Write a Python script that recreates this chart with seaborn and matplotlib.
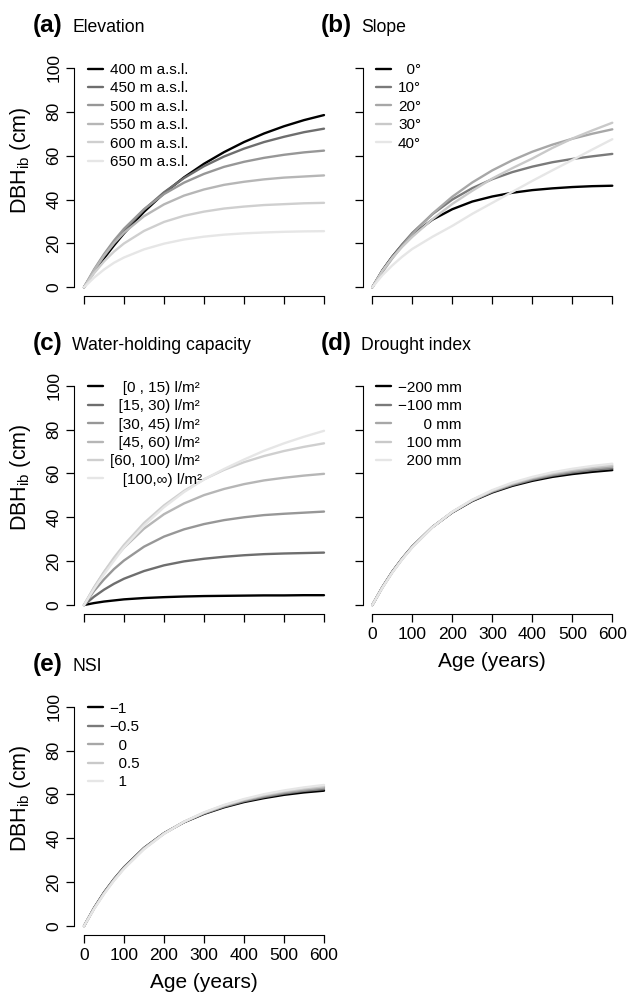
"""
DBH growth curves under different site conditions (five panels).
"""
import numpy as np
import pandas as pd
import matplotlib
matplotlib.use("Agg")
import matplotlib.pyplot as plt
import matplotlib.colors as mcolors
import seaborn as sns

AGES = [0, 25, 50, 75, 100, 150, 200, 250, 300, 350, 400, 450, 500, 550, 600]

# (a) elevation
ELEV_LABELS = ["400 m a.s.l.", "450 m a.s.l.", "500 m a.s.l.",
               "550 m a.s.l.", "600 m a.s.l.", "650 m a.s.l."]
ELEV_DBH = [
    [0, 6.9, 13.2, 19.1, 24.6, 34.4, 42.9, 50.1, 56.3, 61.6, 66.2, 70.1, 73.4, 76.2, 78.5],
    [0, 7.4, 14.2, 20.3, 25.8, 35.4, 43.3, 49.8, 55.2, 59.6, 63.2, 66.2, 68.6, 70.7, 72.3],
    [0, 8.1, 15.1, 21.3, 26.7, 35.6, 42.5, 47.7, 51.7, 54.9, 57.2, 59.0, 60.4, 61.5, 62.3],
    [0, 7.8, 14.4, 20.1, 24.9, 32.4, 37.8, 41.8, 44.6, 46.7, 48.1, 49.2, 50.0, 50.5, 51.0],
    [0, 6.4, 11.8, 16.3, 20.0, 25.7, 29.8, 32.6, 34.5, 35.9, 36.8, 37.5, 37.9, 38.3, 38.5],
    [0, 4.4, 8.1, 11.2, 13.6, 17.3, 19.9, 21.8, 23.1, 24.0, 24.6, 25.0, 25.3, 25.5, 25.6],
]

# (b) slope
SLOPE_LABELS = ["  0°", "10°", "20°", "30°", "40°"]
SLOPE_DBH = [
    [0, 7.7, 14.0, 19.4, 23.9, 30.8, 35.6, 39.1, 41.4, 43.1, 44.3, 45.1, 45.7, 46.1, 46.3],
    [0, 7.4, 13.9, 19.6, 24.8, 33.3, 40.0, 45.2, 49.3, 52.5, 55.0, 57.0, 58.5, 59.7, 60.8],
    [0, 6.9, 13.2, 18.9, 24.2, 33.5, 41.3, 47.8, 53.3, 57.9, 61.8, 65.0, 67.7, 70.0, 72.0],
    [0, 7.5, 13.5, 18.5, 23.0, 31.0, 38.0, 44.0, 49.6, 54.3, 58.7, 63.5, 67.8, 71.5, 75.0],
    [0, 5.5, 10.0, 14.0, 17.5, 23.0, 28.0, 33.5, 38.5, 43.5, 48.5, 53.3, 58.0, 62.8, 67.5],
]

# (c) water-holding capacity
WHC_LABELS = ["   [0 , 15) l/m²", "  [15, 30) l/m²", "  [30, 45) l/m²",
              "  [45, 60) l/m²", "[60, 100) l/m²", "   [100,∞) l/m²"]
WHC_DBH = [
    [0, 0.9, 1.6, 2.1, 2.6, 3.2, 3.6, 3.9, 4.1, 4.2, 4.3, 4.4, 4.4, 4.5, 4.5],
    [0, 3.8, 7.0, 9.7, 12.0, 15.5, 18.1, 19.9, 21.1, 22.0, 22.7, 23.2, 23.5, 23.7, 23.9],
    [0, 6.4, 11.7, 16.4, 20.3, 26.6, 31.2, 34.5, 36.9, 38.7, 40.0, 41.0, 41.6, 42.1, 42.6],
    [0, 7.9, 14.9, 21.0, 26.2, 34.8, 41.4, 46.3, 50.1, 52.9, 55.1, 56.8, 58.0, 59.0, 59.8],
    [0, 8.0, 15.1, 21.6, 27.4, 37.4, 45.4, 52.0, 57.3, 61.6, 65.1, 67.9, 70.2, 72.1, 73.7],
    [0, 7.3, 14.0, 20.2, 26.3, 36.2, 44.6, 51.5, 57.2, 62.0, 66.3, 70.3, 73.7, 76.7, 79.4],
]

# (d) drought index
DROUGHT_LABELS = ["−200 mm", "−100 mm", "      0 mm", "  100 mm", "  200 mm"]
DROUGHT_DBH = [
    [0, 8.1, 15.2, 21.3, 26.7, 35.5, 42.2, 47.4, 51.3, 54.3, 56.6, 58.4, 59.7, 60.7, 61.5],
    [0, 8.0, 15.1, 21.2, 26.6, 35.5, 42.3, 47.6, 51.6, 54.7, 57.1, 59.0, 60.4, 61.5, 62.3],
    [0, 8.0, 15.0, 21.1, 26.5, 35.5, 42.4, 47.7, 51.9, 55.1, 57.6, 59.5, 61.0, 62.2, 63.0],
    [0, 7.9, 14.9, 21.0, 26.4, 35.4, 42.4, 47.9, 52.1, 55.4, 58.0, 60.0, 61.6, 62.8, 63.7],
    [0, 7.8, 14.8, 20.9, 26.3, 35.4, 42.5, 48.0, 52.4, 55.8, 58.4, 60.5, 62.1, 63.4, 64.4],
]

# (e) NSI
NSI_LABELS = ["−1", "−0.5", "  0", "  0.5", "  1"]
NSI_DBH = [
    [0, 8.2, 15.3, 21.4, 26.8, 35.6, 42.3, 47.3, 51.1, 54.1, 56.5, 58.3, 59.8, 60.9, 61.7],
    [0, 8.1, 15.2, 21.3, 26.7, 35.5, 42.3, 47.4, 51.3, 54.4, 56.9, 58.8, 60.4, 61.6, 62.4],
    [0, 8.0, 15.0, 21.1, 26.5, 35.4, 42.2, 47.5, 51.5, 54.7, 57.3, 59.3, 60.9, 62.1, 63.1],
    [0, 7.9, 14.8, 20.9, 26.3, 35.2, 42.1, 47.5, 51.7, 55.0, 57.6, 59.7, 61.4, 62.7, 63.7],
    [0, 7.7, 14.6, 20.7, 26.1, 35.0, 42.0, 47.5, 51.8, 55.2, 57.9, 60.1, 61.8, 63.2, 64.3],
]

W, H = 630, 996
FONT = ["Liberation Sans", "DejaVu Sans"]


def r_grays(n, start=0.0, end=0.9, gamma=2.2):
    """Same ramp as R's gray.colors()."""
    levels = np.linspace(start ** gamma, end ** gamma, n) ** (1 / gamma)
    return [mcolors.to_hex((g, g, g)) for g in levels]


def draw_panel(ax, labels, curves, letter, title, left_labels, bottom_labels):
    df = pd.DataFrame({
        "Age": np.tile(AGES, len(labels)),
        "DBH": np.concatenate(curves),
        "Level": np.repeat(labels, len(AGES)),
    })
    sns.lineplot(data=df, x="Age", y="DBH", hue="Level", hue_order=labels,
                 palette=r_grays(len(labels)), linewidth=1.7, errorbar=None,
                 legend=False, ax=ax)

    ax.legend(ax.get_lines(), labels, loc="upper left",
              bbox_to_anchor=(0.036, 1.0), frameon=False, fontsize=11,
              handlelength=1.0, handletextpad=0.45, labelspacing=0.29,
              borderpad=0.25, borderaxespad=0)

    ax.set_xlim(-24, 624)
    ax.set_ylim(-4, 104)
    ax.set_xticks(range(0, 601, 100))
    ax.set_yticks(range(0, 101, 20))
    sns.despine(ax=ax)
    ax.spines["left"].set_bounds(0, 100)
    ax.spines["bottom"].set_bounds(0, 600)
    ax.tick_params(length=5.5, width=0.9, labelsize=12.5, pad=4)
    ax.tick_params(axis="y", labelrotation=90)
    for lbl in ax.get_yticklabels():
        lbl.set_va("center")
    ax.tick_params(labelleft=left_labels, labelbottom=bottom_labels)

    ax.set_xlabel("")
    ax.set_ylabel("")
    if left_labels:
        ax.set_ylabel("DBH$_{\\mathrm{ib}}$ (cm)", fontsize=15.5)
        ax.yaxis.set_label_coords(-0.16, 0.575)
    if bottom_labels:
        ax.set_xlabel("Age (years)", fontsize=15)
        ax.xaxis.set_label_coords(0.5, -0.16)

    # panel letter + title, placed in pixels like the original
    pos = ax.get_position()
    x0 = pos.x0 * W - 42
    base = (1 - pos.y1) * H - 27
    fig = ax.figure
    fig.text(x0 / W, 1 - base / H, f"({letter})", fontsize=17.5,
             fontweight="bold", va="baseline", ha="left")
    fig.text((x0 + 40) / W, 1 - base / H, title, fontsize=12.7,
             va="baseline", ha="left")


sns.set_style("ticks", rc={"axes.edgecolor": "black", "xtick.color": "black",
                           "ytick.color": "black", "text.color": "black",
                           "axes.labelcolor": "black", "axes.linewidth": 0.9})
plt.rcParams["font.family"] = FONT
plt.rcParams["mathtext.fontset"] = "custom"
plt.rcParams["mathtext.rm"] = "Liberation Sans"
plt.rcParams["mathtext.it"] = "Liberation Sans:italic"
plt.rcParams["mathtext.bf"] = "Liberation Sans:bold"

fig = plt.figure(figsize=(W / 100, H / 100), dpi=100)
aw, ah = 259.2 / W, 237.0 / H
ax_a = fig.add_axes([74.4 / W, 0.7027, aw, ah])
ax_b = fig.add_axes([362.7 / W, 0.7027, aw, ah])
ax_c = fig.add_axes([74.4 / W, 0.3837, aw, ah])
ax_d = fig.add_axes([362.7 / W, 0.3837, aw, ah])
ax_e = fig.add_axes([74.4 / W, 0.0614, aw, ah])

draw_panel(ax_a, ELEV_LABELS, ELEV_DBH, "a", "Elevation", True, False)
draw_panel(ax_b, SLOPE_LABELS, SLOPE_DBH, "b", "Slope", False, False)
draw_panel(ax_c, WHC_LABELS, WHC_DBH, "c", "Water-holding capacity", True, False)
draw_panel(ax_d, DROUGHT_LABELS, DROUGHT_DBH, "d", "Drought index", False, True)
draw_panel(ax_e, NSI_LABELS, NSI_DBH, "e", "NSI", True, True)

fig.savefig("out.png", dpi=100)
plt.close(fig)
